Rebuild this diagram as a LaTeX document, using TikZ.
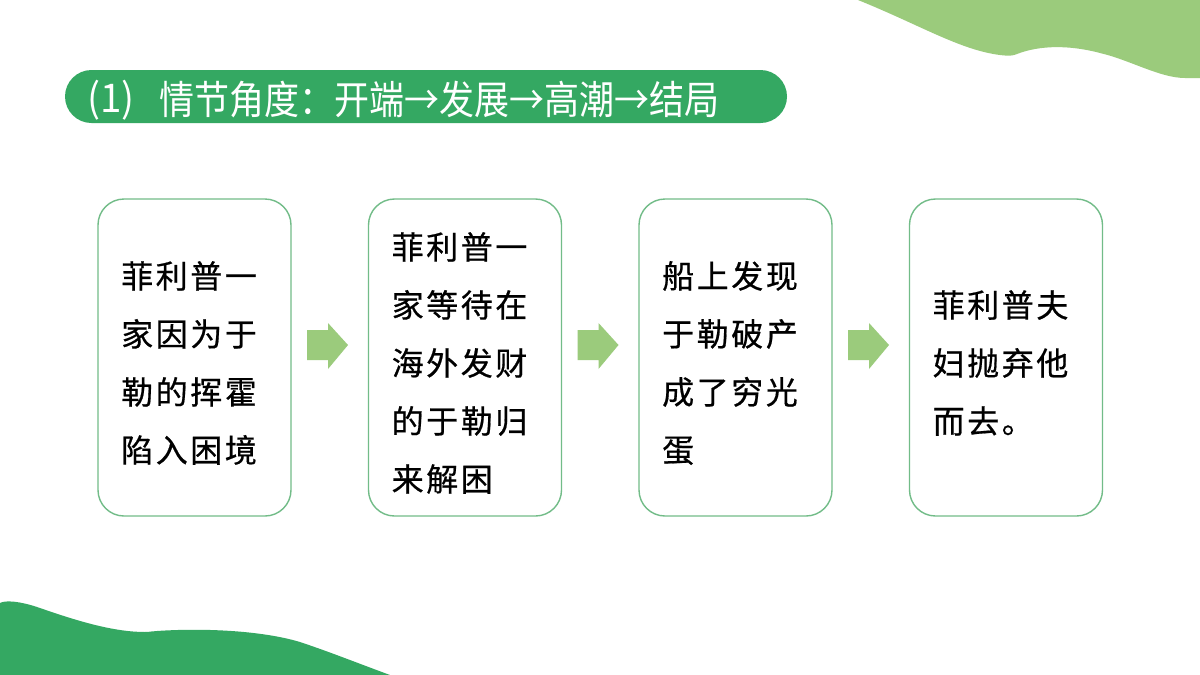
\documentclass[tikz,border=0pt]{standalone}
\usepackage{fontspec}
\setmainfont{Noto Sans CJK SC}
\newfontfamily\boxfont[LetterSpace=8,FakeBold=0.6]{Noto Sans CJK SC}
\definecolor{darkg}{HTML}{34A862}
\definecolor{lightg}{HTML}{9BCB7C}
\definecolor{boxg}{HTML}{72BC88}
\begin{document}
\begin{tikzpicture}[x=1pt,y=-1pt,
  stagebox/.style={draw=boxg,line width=1.4pt,rounded corners=26pt,fill=white},
  stagetext/.style={anchor=west,inner sep=0pt,align=left,text=black,font=\boxfont\fontsize{32}{58}\selectfont},
  titletext/.style={anchor=west,inner sep=0pt,text=white,font=\fontsize{35}{35}\selectfont},
  flowarrow/.style={fill=lightg}]
\useasboundingbox (0,0) rectangle (1200,675);
\fill[white] (0,0) rectangle (1200,675);
% decorations
\fill[lightg] (858,0) .. controls (920,25) and (960,50) .. (1000,55)
  .. controls (1008,56) and (1013,56) .. (1017,54)
  .. controls (1040,45) and (1070,45) .. (1100,53)
  .. controls (1130,60) and (1160,78) .. (1185,78) -- (1200,78) -- (1200,0) -- cycle;
\fill[darkg] (0,675) -- (0,603) .. controls (5,600) and (20,601) .. (40,608)
  .. controls (80,622) and (115,632) .. (145,632)
  .. controls (150,632) and (153,631) .. (157,631)
  .. controls (200,628) and (260,630) .. (300,642)
  .. controls (330,652) and (360,664) .. (390,675) -- cycle;
% title
\fill[darkg,rounded corners=26.5pt] (65,70) rectangle (787,123);
\node[titletext] (titlenum) at (87,100) {\scalebox{1.1}[1.13]{(1)}};
\node[titletext] (title) at (159,100) {\scalebox{1}[1.13]{情节角度：开端→发展→高潮→结局}};
% boxes
\foreach \i/\x in {1/98,2/368.5,3/639,4/909.5}{
  \draw[stagebox] (\x,199) rectangle ++(193,317);
  \coordinate (b\i) at (\x+23,363);
}
\node[stagetext] (t1) at (b1) {菲利普一\\家因为于\\勒的挥霍\\陷入困境};
\node[stagetext] (t2) at (b2) {菲利普一\\家等待在\\海外发财\\的于勒归\\来解困};
\node[stagetext] (t3) at (b3) {船上发现\\于勒破产\\成了穷光\\蛋};
\node[stagetext] (t4) at (b4) {菲利普夫\\妇抛弃他\\而去。};
% arrows
\foreach \ax in {307,577.5,848}{
  \fill[flowarrow] (\ax,330) -- (\ax+21,330) -- (\ax+21,323) -- (\ax+41,345) -- (\ax+21,369) -- (\ax+21,360) -- (\ax,360) -- cycle;
}
\end{tikzpicture}
\end{document}
